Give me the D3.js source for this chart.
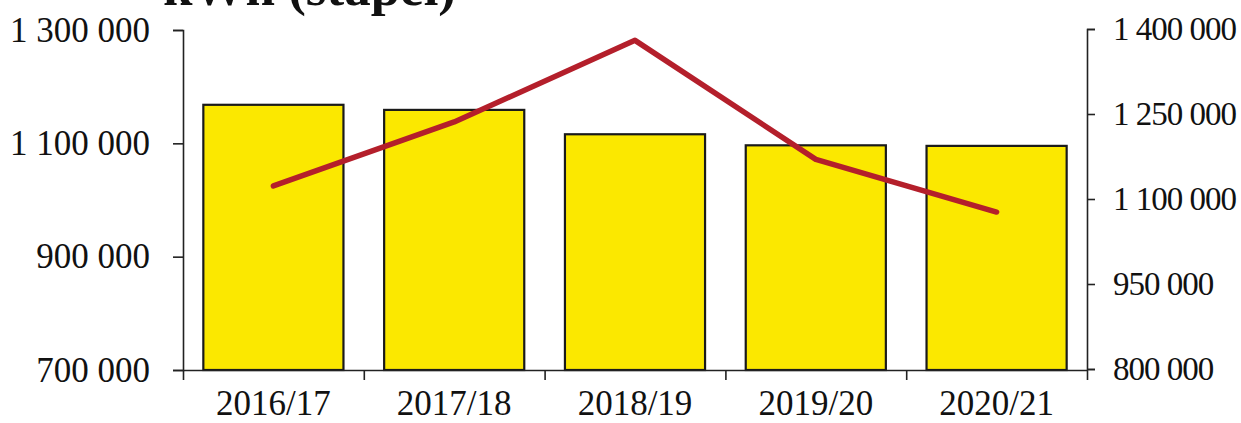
<!DOCTYPE html>
<html>
<head>
<meta charset="utf-8">
<script src="https://cdn.jsdelivr.net/npm/d3@7"></script>
<style>
  html, body { margin: 0; padding: 0; background: #fff; }
  svg { display: block; }
  text { font-family: "Liberation Serif", "Times New Roman", serif; fill: #111; }
</style>
</head>
<body>
<svg id="chart" width="1241" height="423"></svg>
<script>
// Seasons on the x axis
const seasons = ["2016/17", "2017/18", "2018/19", "2019/20", "2020/21"];
// Energy use in kWh (bars, left axis)
const kwhBars = [1168000, 1159000, 1116000, 1096500, 1095500];
// Second series (line, right axis)
const lineValues = [1123000, 1236000, 1380000, 1170000, 1077000];
// Axis ticks
const leftTicks = [700000, 900000, 1100000, 1300000];
const rightTicks = [800000, 950000, 1100000, 1250000, 1400000];

const svg = d3.select("#chart");
const plotLeft = 183, plotRight = 1087, plotTop = 30, plotBottom = 370;

const locale = d3.formatLocale({ decimal: ",", thousands: " ", grouping: [3], currency: ["", ""] });
const fmt = locale.format(",d");

const x = d3.scaleBand().domain(seasons).range([plotLeft, plotRight])
  .paddingInner(0.225).paddingOuter(0.1125);
const yL = d3.scaleLinear().domain([700000, 1300000]).range([plotBottom, plotTop]);
const yR = d3.scaleLinear().domain([800000, 1400000]).range([plotBottom - 1, plotTop - 1]);

// Bars
svg.append("g").selectAll("rect").data(seasons).join("rect")
  .attr("x", d => x(d))
  .attr("width", x.bandwidth())
  .attr("y", (d, i) => yL(kwhBars[i]))
  .attr("height", (d, i) => yL(700000) - yL(kwhBars[i]))
  .attr("fill", "#fbe800")
  .attr("stroke", "#1a1a1a")
  .attr("stroke-width", 2.2);

// Line series
const line = d3.line()
  .x((d, i) => x(seasons[i]) + x.bandwidth() / 2)
  .y(d => yR(d));
svg.append("path").datum(lineValues)
  .attr("d", line)
  .attr("fill", "none")
  .attr("stroke", "#b41f2b")
  .attr("stroke-width", 5.5)
  .attr("stroke-linecap", "round")
  .attr("stroke-linejoin", "round");

// Left axis
const axL = svg.append("g").attr("transform", `translate(${plotLeft},0)`)
  .call(d3.axisLeft(yL).tickValues(leftTicks).tickFormat(fmt)
    .tickSizeInner(10).tickSizeOuter(10).tickPadding(23));

// Right axis
const axR = svg.append("g").attr("transform", `translate(${plotRight},0)`)
  .call(d3.axisRight(yR).tickValues(rightTicks).tickFormat(fmt)
    .tickSizeInner(8).tickSizeOuter(8).tickPadding(18));

// Category axis: ticks on the band boundaries, labels centred under bars
const xEdges = d3.scaleLinear().domain([0, seasons.length]).range([plotLeft, plotRight]);
const axB = svg.append("g").attr("transform", `translate(0,${plotBottom})`)
  .call(d3.axisBottom(xEdges).tickValues(d3.range(seasons.length + 1))
    .tickFormat("").tickSizeInner(10).tickSizeOuter(0));

svg.append("g").selectAll("text").data(seasons).join("text")
  .attr("x", d => x(d) + x.bandwidth() / 2)
  .attr("y", 415)
  .attr("text-anchor", "middle")
  .attr("font-size", 35)
  .text(d => d);

[axL, axR, axB].forEach(g => {
  g.selectAll("path, line").attr("stroke", "#222").attr("stroke-width", 1.6);
  g.selectAll("text").attr("font-size", 35)
    .attr("font-family", "'Liberation Serif', 'Times New Roman', serif").attr("fill", "#111");
});
// Right-hand labels are set a little tighter
axR.selectAll("text").attr("font-size", 33).attr("letter-spacing", -1);

// Title, partly above the top edge
svg.append("text")
  .attr("x", 163).attr("y", 5)
  .attr("font-size", 53).attr("font-weight", "bold")
  .text("kWh (stapel)");
</script>
</body>
</html>
